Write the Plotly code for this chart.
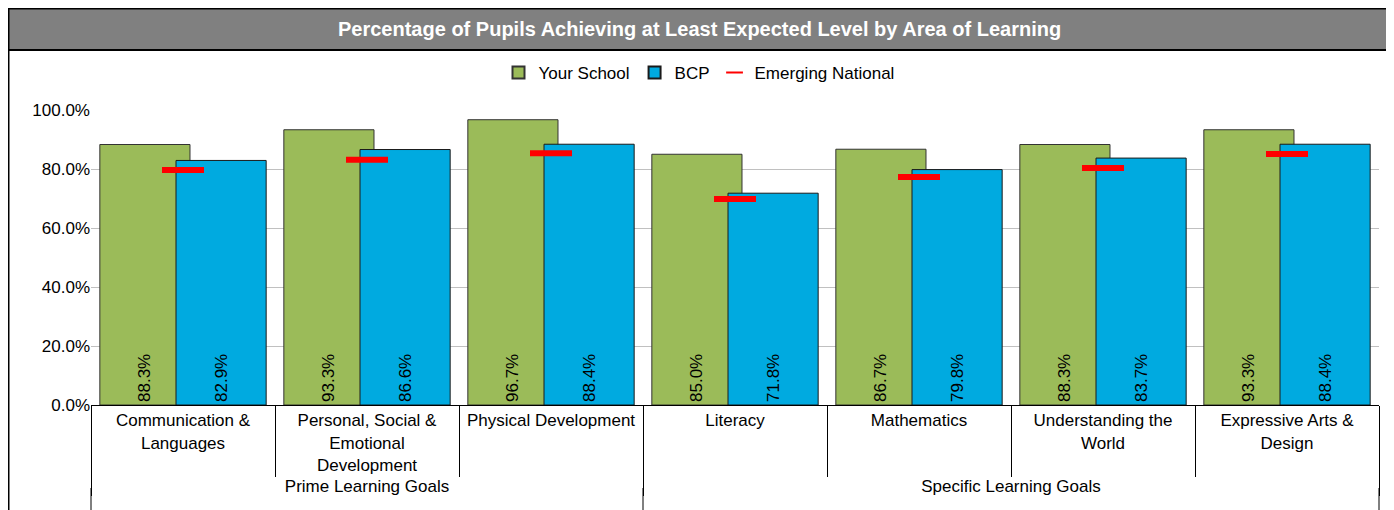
import plotly.graph_objects as go

groups = ["Prime Learning Goals"] * 3 + ["Specific Learning Goals"] * 4
areas = ["Communication &<br>Languages", "Personal, Social &<br>Emotional<br>Development",
         "Physical Development", "Literacy", "Mathematics",
         "Understanding the<br>World", "Expressive Arts &<br>Design"]
your_school = [88.3, 93.3, 96.7, 85.0, 86.7, 88.3, 93.3]
bcp = [82.9, 86.6, 88.4, 71.8, 79.8, 83.7, 88.4]
emerging_national = [79.7, 83.1, 85.3, 69.8, 77.3, 80.3, 85.1]
y_ticks = [0, 20, 40, 60, 80, 100]
y_tick_labels = ["0.0%", "20.0%", "40.0%", "60.0%", "80.0%", "100.0%"]

FONT = "Liberation Sans, Arial, sans-serif"
x = [groups, areas]

# the page body adds an 8px offset, so work in figure pixels (screen - 8)
L, T = 83, 102
R = 1394 - 1371
B = 510 - 397
W, H = 1394 - L - R, 510 - T - B
px = lambda v: (v - L) / W
py = lambda v: (510 - B - v) / H

fig = go.Figure()
fig.add_trace(go.Bar(
    x=x, y=your_school, name="Your School",
    marker=dict(color="#9bbb59", line=dict(color="#333333", width=1)),
    width=0.49, offset=-0.452,
    texttemplate="%{y:.1f}%", textposition="inside", insidetextanchor="start",
    textangle=-90, textfont=dict(size=17, color="black", family=FONT),
))
fig.add_trace(go.Bar(
    x=x, y=bcp, name="BCP",
    marker=dict(color="#00aae0", line=dict(color="#1a1a1a", width=1)),
    width=0.49, offset=-0.038,
    texttemplate="%{y:.1f}%", textposition="inside", insidetextanchor="start",
    textangle=-90, textfont=dict(size=17, color="black", family=FONT),
))
fig.add_trace(go.Scatter(
    x=x, y=emerging_national, name="Emerging National", mode="markers",
    marker=dict(symbol="line-ew", size=30, color="red", line=dict(color="red", width=6)),
))

# group dividers carried on to the bottom edge
bounds = [0]
for i in range(1, len(groups)):
    if groups[i] != groups[i - 1]:
        bounds.append(i)
bounds.append(len(groups))
divider_shapes = [
    dict(type="line", xref="paper", yref="paper", x0=b / len(groups), x1=b / len(groups),
         y0=py(480), y1=py(515), line=dict(color="black", width=1))
    for b in bounds
]

fig.update_layout(
    width=1394, height=510,
    margin=dict(l=L, r=R, t=T, b=B, autoexpand=False),
    barmode="overlay",
    paper_bgcolor="white", plot_bgcolor="white",
    font=dict(family=FONT, size=17, color="black"),
    showlegend=True,
    legend=dict(orientation="h", x=px(691), xanchor="center", y=py(65), yanchor="middle",
                font=dict(size=17), itemsizing="constant", traceorder="normal"),
    xaxis=dict(
        type="multicategory", showline=True, linecolor="black", linewidth=1,
        ticks="outside", tickson="boundaries", ticklen=71, tickcolor="black",
        showdividers=True, dividercolor="black", dividerwidth=1,
        tickfont=dict(size=17), automargin=False,
    ),
    yaxis=dict(
        range=[0, 100], tickvals=y_ticks, ticktext=y_tick_labels,
        showgrid=True, gridcolor="#c0c0c0", gridwidth=1, zeroline=False,
        showline=False, ticks="", tickfont=dict(size=17), automargin=False,
    ),
    shapes=divider_shapes + [
        dict(type="rect", xref="paper", yref="paper", x0=px(0), x1=px(1382), y0=py(42), y1=py(0),
             fillcolor="#808080", line=dict(color="black", width=2), layer="above"),
        dict(type="rect", xref="paper", yref="paper", x0=px(0), x1=px(1382), y0=py(560), y1=py(0),
             fillcolor="rgba(0,0,0,0)", line=dict(color="black", width=3), layer="above"),
    ],
    annotations=[
        dict(text="<b>Percentage of Pupils Achieving at Least Expected Level by Area of Learning</b>",
             xref="paper", yref="paper", x=px(691), y=py(21), xanchor="center", yanchor="middle",
             showarrow=False, font=dict(size=20, color="white", family=FONT)),
    ],
)

fig.write_html("out.html")
